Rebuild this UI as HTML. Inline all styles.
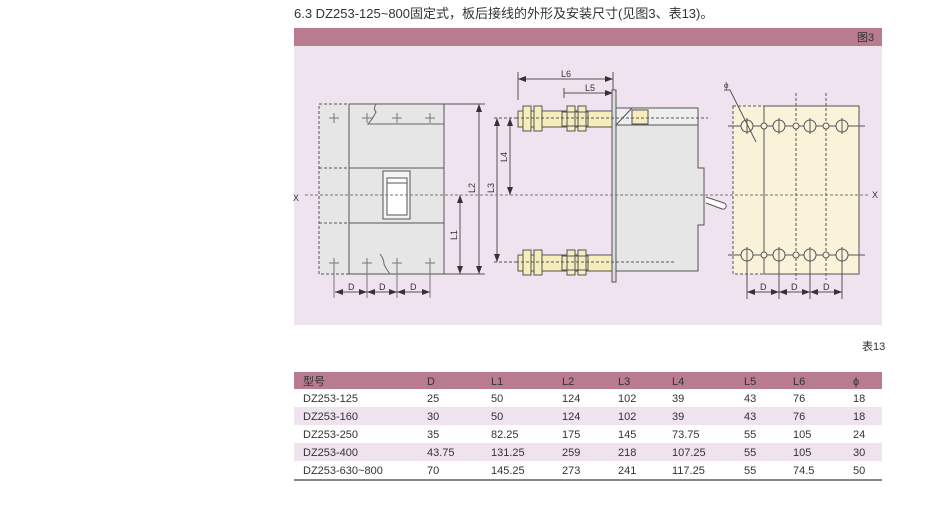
<!DOCTYPE html>
<html><head><meta charset="utf-8"><style>
body{margin:0;background:#fff;width:950px;height:514px;overflow:hidden;font-family:"Liberation Sans","Noto Sans CJK SC",sans-serif;}
svg{position:absolute;left:0;top:0}
text{font-family:"Liberation Sans","Noto Sans CJK SC",sans-serif;}
</style></head><body>
<svg width="950" height="514" viewBox="0 0 950 514">
<defs>
<marker id="a" markerWidth="8" markerHeight="6" refX="8" refY="3" orient="auto-start-reverse" markerUnits="userSpaceOnUse"><path d="M0,0L8,3L0,6z" fill="#333"/></marker>
</defs>
<text x="294" y="18" font-size="13" fill="#333">6.3 DZ253-125~800固定式，板后接线的外形及安装尺寸(见图3、表13)。</text>
<rect x="294" y="28" width="588" height="18" fill="#b97b8f"/>
<text x="857" y="41" font-size="11" fill="#333">图3</text>
<rect x="294" y="46" width="588" height="279" fill="#efe3f0"/>
<g stroke="#555" stroke-width="1" fill="none">
<rect x="319" y="104" width="30" height="170" fill="#e6e6e6" stroke-dasharray="3,2"/>
<line x1="319" y1="168" x2="349" y2="168" stroke-dasharray="3,2"/>
<line x1="319" y1="223" x2="349" y2="223" stroke-dasharray="3,2"/>
<rect x="349" y="104" width="95" height="170" fill="#e6e6e6"/>
<line x1="349" y1="168" x2="444" y2="168"/>
<line x1="349" y1="223" x2="444" y2="223"/>
<path d="M376,104 q-3,5 0,8 q-4,8 -8,12 L444,124" stroke="#666"/>
<path d="M380,254 q4,5 4,10 q2,5 6,10" stroke="#666"/>
<rect x="383" y="171" width="27" height="48" fill="#f4f4f4"/>
<rect x="387" y="178" width="20" height="37" fill="#fff"/>
<line x1="387" y1="183" x2="407" y2="183"/>
<g stroke="#777">
<path d="M329,118h10M334,113v10M362,118h10M367,113v10M392,118h10M397,113v10M425,118h10M430,113v10"/>
<path d="M329,263h10M334,258v40M362,263h10M367,258v40M392,263h10M397,258v40M425,263h10M430,258v40"/>
</g>
<line x1="444" y1="104" x2="485" y2="104"/>
<line x1="444" y1="274" x2="485" y2="274"/>
<line x1="479" y1="104" x2="479" y2="274" marker-start="url(#a)" marker-end="url(#a)"/>
<line x1="460" y1="195" x2="460" y2="274" marker-start="url(#a)" marker-end="url(#a)"/>
<line x1="335" y1="292" x2="367" y2="292" marker-start="url(#a)" marker-end="url(#a)"/>
<line x1="367" y1="292" x2="397" y2="292" marker-start="url(#a)" marker-end="url(#a)"/>
<line x1="397" y1="292" x2="430" y2="292" marker-start="url(#a)" marker-end="url(#a)"/>
<line x1="518" y1="72" x2="518" y2="100"/>
<line x1="613" y1="72" x2="613" y2="90"/>
<line x1="564" y1="88" x2="564" y2="98"/>
<line x1="518" y1="79" x2="613" y2="79" marker-start="url(#a)" marker-end="url(#a)"/>
<line x1="564" y1="93" x2="613" y2="93" marker-end="url(#a)"/>
<line x1="494" y1="118" x2="520" y2="118" stroke-dasharray="3,2"/>
<line x1="494" y1="262" x2="520" y2="262" stroke-dasharray="3,2"/>
<line x1="497" y1="118" x2="497" y2="262" marker-start="url(#a)" marker-end="url(#a)"/>
<line x1="510" y1="118" x2="510" y2="195" marker-start="url(#a)" marker-end="url(#a)"/>
<g fill="#f5eebc">
<rect x="518" y="111" width="94" height="16"/>
<rect x="523" y="106" width="8" height="25"/><rect x="534" y="106" width="8" height="25"/>
<rect x="567" y="106" width="8" height="25"/><rect x="578" y="106" width="8" height="25"/>
<rect x="562" y="112" width="26" height="14" fill="none"/>
<rect x="518" y="255" width="94" height="16"/>
<rect x="523" y="250" width="8" height="25"/><rect x="534" y="250" width="8" height="25"/>
<rect x="567" y="250" width="8" height="25"/><rect x="578" y="250" width="8" height="25"/>
<rect x="562" y="256" width="26" height="14" fill="none"/>
</g>
<rect x="612" y="90" width="4" height="192" fill="#ddd"/>
<rect x="616" y="108" width="82" height="17" fill="#eee"/>
<path d="M616,125 L632,108"/>
<rect x="632" y="110" width="16" height="14" fill="#f5eebc"/>
<path d="M616,125 H698 V168 H704 V225 H698 V271 H616z" fill="#e6e6e6"/>
<path d="M706,197 L724,203 a3,3 0 0 1 -2,6 L706,203" fill="#fff"/>
<line x1="516" y1="118" x2="708" y2="118" stroke-dasharray="3,2"/>
<line x1="516" y1="262" x2="675" y2="262" stroke-dasharray="3,2"/>
<rect x="733" y="106" width="31" height="168" fill="#f9f1d8" stroke-dasharray="3,2"/>
<rect x="764" y="106" width="95" height="168" fill="#faf2d9"/>
<line x1="764" y1="106" x2="764" y2="274" stroke-dasharray="3,2"/>
<line x1="796" y1="93" x2="796" y2="280" stroke-dasharray="3,2"/>
<line x1="826" y1="93" x2="826" y2="280" stroke-dasharray="3,2"/>
<line x1="728" y1="126" x2="865" y2="126"/>
<line x1="728" y1="255" x2="865" y2="255"/>
<g fill="#faf2d9">
<circle cx="747" cy="126" r="6"/><circle cx="779" cy="126" r="6"/><circle cx="810" cy="126" r="6"/><circle cx="842" cy="126" r="6"/>
<circle cx="764" cy="126" r="3"/><circle cx="796" cy="126" r="3"/><circle cx="826" cy="126" r="3"/>
<circle cx="747" cy="255" r="6"/><circle cx="779" cy="255" r="6"/><circle cx="810" cy="255" r="6"/><circle cx="842" cy="255" r="6"/>
<circle cx="764" cy="255" r="3"/><circle cx="796" cy="255" r="3"/><circle cx="826" cy="255" r="3"/>
</g>
<path d="M747,118v16M779,118v16M810,118v16M842,118v16M747,247v52M779,247v52M810,247v52M842,247v52"/>
<path d="M724,90 H730 L756,142"/>
<line x1="747" y1="292" x2="779" y2="292" marker-start="url(#a)" marker-end="url(#a)"/>
<line x1="779" y1="292" x2="810" y2="292" marker-start="url(#a)" marker-end="url(#a)"/>
<line x1="810" y1="292" x2="842" y2="292" marker-start="url(#a)" marker-end="url(#a)"/>
<line x1="305" y1="195" x2="870" y2="195" stroke-dasharray="3,2" stroke="#777"/>
</g>
<g font-size="9" fill="#333">
<text x="293" y="201">X</text><text x="872" y="198">X</text>
<text x="348" y="290">D</text><text x="379" y="290">D</text><text x="410" y="290">D</text>
<text x="760" y="290">D</text><text x="791" y="290">D</text><text x="823" y="290">D</text>
<text x="724" y="88" font-size="8">ϕ</text>
<text x="561" y="77">L6</text><text x="585" y="91">L5</text>
<text transform="translate(475,193) rotate(-90)">L2</text>
<text transform="translate(457,240) rotate(-90)">L1</text>
<text transform="translate(494,193) rotate(-90)">L3</text>
<text transform="translate(507,162) rotate(-90)">L4</text>
</g>
<text x="862" y="350" font-size="11" fill="#333">表13</text>
<rect x="294" y="372" width="588" height="17" fill="#b97b8f"/>
<rect x="294" y="407" width="588" height="18" fill="#efe3f0"/>
<rect x="294" y="443" width="588" height="18" fill="#efe3f0"/>
<rect x="294" y="479" width="588" height="2" fill="#888"/>
<g font-size="11" fill="#333">
<text y="385"><tspan x="303">型号</tspan><tspan x="427">D</tspan><tspan x="491">L1</tspan><tspan x="562">L2</tspan><tspan x="618">L3</tspan><tspan x="672">L4</tspan><tspan x="744">L5</tspan><tspan x="793">L6</tspan><tspan x="853">ϕ</tspan></text>
<text y="402"><tspan x="303">DZ253-125</tspan><tspan x="427">25</tspan><tspan x="491">50</tspan><tspan x="562">124</tspan><tspan x="618">102</tspan><tspan x="672">39</tspan><tspan x="744">43</tspan><tspan x="793">76</tspan><tspan x="853">18</tspan></text>
<text y="420"><tspan x="303">DZ253-160</tspan><tspan x="427">30</tspan><tspan x="491">50</tspan><tspan x="562">124</tspan><tspan x="618">102</tspan><tspan x="672">39</tspan><tspan x="744">43</tspan><tspan x="793">76</tspan><tspan x="853">18</tspan></text>
<text y="438"><tspan x="303">DZ253-250</tspan><tspan x="427">35</tspan><tspan x="491">82.25</tspan><tspan x="562">175</tspan><tspan x="618">145</tspan><tspan x="672">73.75</tspan><tspan x="744">55</tspan><tspan x="793">105</tspan><tspan x="853">24</tspan></text>
<text y="456"><tspan x="303">DZ253-400</tspan><tspan x="427">43.75</tspan><tspan x="491">131.25</tspan><tspan x="562">259</tspan><tspan x="618">218</tspan><tspan x="672">107.25</tspan><tspan x="744">55</tspan><tspan x="793">105</tspan><tspan x="853">30</tspan></text>
<text y="474"><tspan x="303">DZ253-630~800</tspan><tspan x="427">70</tspan><tspan x="491">145.25</tspan><tspan x="562">273</tspan><tspan x="618">241</tspan><tspan x="672">117.25</tspan><tspan x="744">55</tspan><tspan x="793">74.5</tspan><tspan x="853">50</tspan></text>
</g>
</svg>
</body></html>
